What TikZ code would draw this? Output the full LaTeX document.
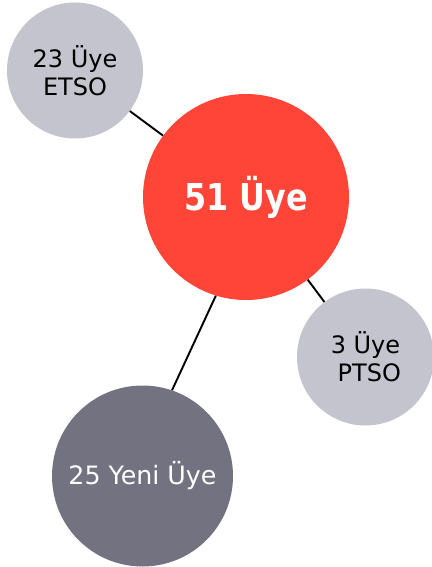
\documentclass[tikz,border=0pt]{standalone}
\usepackage{fontspec}
\setmainfont{DejaVu Sans}
\newfontfamily\condfont{DejaVu Sans}[FakeStretch=0.86]
\definecolor{redc}{RGB}{255,68,56}
\definecolor{lightg}{RGB}{196,196,206}
\definecolor{darkg}{RGB}{115,114,129}
\tikzset{
  bubble/.style={circle, inner sep=0pt, align=center},
  link/.style={line width=1.9pt, black}
}
\begin{document}
\begin{tikzpicture}[x=1pt,y=-1pt]
\useasboundingbox (0,0) rectangle (431,567);
\node[bubble, fill=lightg, minimum size=136pt, font=\fontsize{24}{28}\selectfont] (etso) at (75,70.5) {23 Üye~\\ETSO};
\node[bubble, fill=redc, minimum size=206pt, text=white, font=\condfont\bfseries\fontsize{37}{44}\selectfont] (main) at (246,197) {51 Üye};
\node[bubble, fill=lightg, minimum size=137pt, font=\fontsize{24}{28}\selectfont] (ptso) at (365.5,357) {3 Üye\\~PTSO};
\node[bubble, fill=darkg, minimum size=181pt, text=white, font=\fontsize{25.3}{29}\selectfont] (yeni) at (142.5,476) {25 Yeni Üye};
\draw[link] (etso) -- (main);
\draw[link] (main) -- (ptso);
\draw[link] (main.-107) -- (yeni.71);
\end{tikzpicture}
\end{document}
